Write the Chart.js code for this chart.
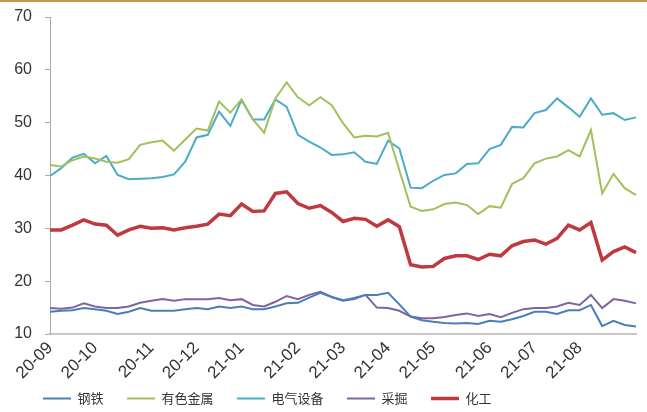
<!DOCTYPE html>
<html>
<head>
<meta charset="utf-8">
<script src="https://cdn.jsdelivr.net/npm/chart.js@4.4.0/dist/chart.umd.min.js"></script>
<style>
  html, body { margin:0; padding:0; background:#fff; }
  #wrap { position:relative; width:647px; height:412px; }
  #topline { position:absolute; left:0; top:0; width:647px; height:2px; background:#c8954a; }
</style>
</head>
<body>
<div id="wrap">
  <canvas id="chart" width="647" height="412"></canvas>
  <div id="topline"></div>
</div>
<script>
// month tick labels and the week each month starts on
const months = ["20-09","20-10","20-11","20-12","21-01","21-02","21-03","21-04","21-05","21-06","21-07","21-08"];
const monthWeek = [0,4,9,13,17,22,26,30,34,39,43,47];
const weekCount = 53;

const seriesNames = ["钢铁","有色金属","电气设备","采掘","化工"];

const steel = [14.2,14.4,14.5,14.9,14.7,14.4,13.8,14.2,14.9,14.4,
  14.4,14.4,14.7,14.9,14.7,15.2,14.9,15.2,14.7,14.7,
  15.2,15.8,15.9,16.9,17.8,17.0,16.4,16.8,17.4,17.4,
  17.8,15.6,13.3,12.6,12.3,12.1,12.0,12.1,11.9,12.5,
  12.3,12.8,13.4,14.2,14.2,13.8,14.5,14.5,15.5,11.5,
  12.5,11.7,11.4];

const metals = [42.0,41.7,42.9,43.6,43.2,42.6,42.4,43.1,45.8,46.3,
  46.6,44.7,46.8,48.9,48.5,54.0,51.9,54.4,50.6,48.1,
  54.6,57.6,54.8,53.3,54.8,53.3,49.9,47.2,47.5,47.4,
  48.1,41.0,34.1,33.3,33.6,34.6,34.9,34.4,32.7,34.2,
  33.9,38.4,39.5,42.3,43.2,43.6,44.8,43.6,48.6,36.6,
  40.3,37.6,36.3];

const electric = [39.9,41.4,43.4,44.1,42.3,43.7,40.1,39.3,39.4,39.5,
  39.7,40.2,42.6,47.2,47.7,52.1,49.4,54.3,50.6,50.6,
  54.4,53.0,47.7,46.4,45.3,43.9,44.0,44.4,42.6,42.2,
  46.6,45.1,37.7,37.6,39.0,40.1,40.4,42.2,42.3,45.0,
  45.8,49.2,49.1,51.8,52.4,54.6,52.9,51.1,54.6,51.5,
  51.8,50.5,51.0];

const mining = [14.9,14.8,15.0,15.8,15.2,14.9,14.9,15.2,15.9,16.3,
  16.6,16.3,16.6,16.6,16.6,16.8,16.4,16.6,15.5,15.2,
  16.1,17.2,16.6,17.4,18.0,17.0,16.3,16.6,17.4,15.0,
  14.9,14.4,13.3,13.0,13.0,13.2,13.6,13.9,13.4,13.8,
  13.2,14.0,14.7,14.9,14.9,15.2,15.9,15.5,17.4,14.9,
  16.6,16.3,15.8];

const chemicals = [29.7,29.7,30.6,31.6,30.8,30.6,28.7,29.7,30.4,30.0,
  30.1,29.7,30.1,30.4,30.8,32.7,32.4,34.6,33.2,33.3,
  36.6,36.9,34.7,33.8,34.3,33.0,31.3,31.9,31.7,30.4,
  31.6,30.3,23.1,22.7,22.8,24.3,24.8,24.8,24.1,25.1,
  24.8,26.7,27.5,27.8,27.0,28.1,30.6,29.7,31.1,24.0,
  25.6,26.5,25.4];

const labels = new Array(weekCount).fill("");
monthWeek.forEach((w, i) => { labels[w] = months[i]; });

function line(name, data, color, width) {
  return {
    label: name,
    data,
    borderColor: color,
    backgroundColor: color,
    borderWidth: width,
    pointRadius: 0,
    tension: 0,
    fill: false
  };
}

// legend sits a little right of the canvas edge, like the original
const legendShift = {
  id: "legendShift",
  afterLayout(chart) {
    chart.legend.left = 39;
    chart.legend.top += 3;
  }
};

const ctx = document.getElementById("chart");

new Chart(ctx, {
  type: "line",
  data: {
    labels,
    datasets: [
      line(seriesNames[0], steel, "#4a7ebb", 2),
      line(seriesNames[1], metals, "#a2c05c", 2),
      line(seriesNames[2], electric, "#4bacc6", 2),
      line(seriesNames[3], mining, "#8064a2", 2),
      line(seriesNames[4], chemicals, "#c0393f", 3.5)
    ]
  },
  plugins: [legendShift],
  options: {
    responsive: false,
    animation: false,
    layout: { padding: { left: 0, right: 11, top: 17, bottom: 0 } },
    plugins: {
      legend: {
        position: "bottom",
        align: "start",
        labels: {
          usePointStyle: true,
          pointStyle: "line",
          pointStyleWidth: 28,
          boxHeight: 13,
          padding: 4,
          color: "#333",
          font: { family: "'Noto Sans CJK SC'", size: 13 },
          generateLabels(chart) {
            return Chart.defaults.plugins.legend.labels.generateLabels(chart)
              .map(it => ({ ...it, text: it.text + "\u3000\u2002" }));
          }
        }
      },
      tooltip: { enabled: false }
    },
    scales: {
      x: {
        offset: false,
        grid: { display: false, drawTicks: false },
        border: { display: true, color: "#c8c8c8", width: 2 },
        ticks: {
          autoSkip: false,
          minRotation: 45,
          maxRotation: 45,
          padding: 4,
          color: "#333",
          font: { family: "'Liberation Sans'", size: 17 }
        },
        afterFit(s) { s.height = 51; s.paddingLeft = 0; s.paddingRight = 0; }
      },
      y: {
        min: 10,
        max: 70,
        ticks: {
          stepSize: 10,
          padding: 13,
          color: "#333",
          font: { family: "'Liberation Sans'", size: 16 }
        },
        grid: { drawOnChartArea: false, drawTicks: true, tickLength: 5, color: "#aaa" },
        border: { color: "#aaa", width: 1 },
        afterFit(s) { s.width = 50; s.paddingTop = 0; s.paddingBottom = 0; }
      }
    }
  }
});
</script>
</body>
</html>
